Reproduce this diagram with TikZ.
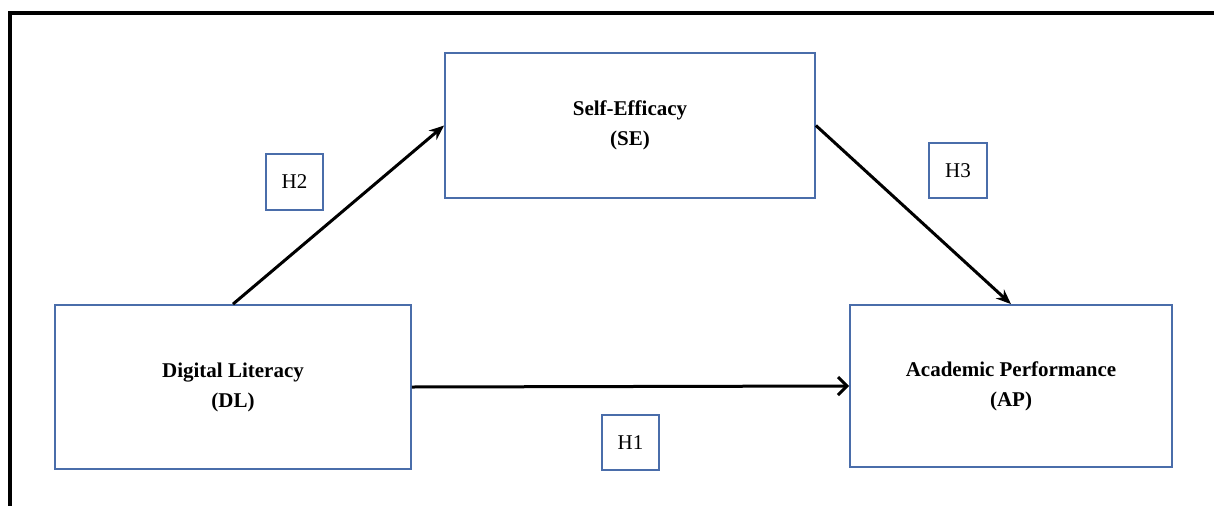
\documentclass[tikz,border=0pt]{standalone}
\usepackage{fontspec}
\setmainfont{Liberation Serif}
\usetikzlibrary{arrows.meta}
\definecolor{boxblue}{HTML}{4A6DAA}
\tikzset{
  construct/.style={draw=boxblue, line width=1.8pt, rectangle, align=center,
    font=\fontsize{21}{30}\selectfont\bfseries, inner sep=0pt},
  hyp/.style={draw=boxblue, line width=1.8pt, rectangle, align=center,
    font=\fontsize{21}{24}\selectfont, inner sep=0pt},
  link/.style={line width=3pt, black},
}
\begin{document}
\begin{tikzpicture}[x=1pt, y=-1pt]
\useasboundingbox (0,0) rectangle (1214,506);
\fill[white] (0,0) rectangle (1214,506);
\coordinate (ftr) at (1214,13);
\coordinate (ftl) at (10,13);
\coordinate (fbl) at (10,506);
\draw[line width=3.2pt, black] (ftr) -- (ftl) -- (fbl);

\node[construct, minimum width=356pt, minimum height=164pt] (DL) at (233,387) {Digital Literacy\\(DL)};
\node[construct, minimum width=370pt, minimum height=145pt] (SE) at (630,125.5) {Self-Efficacy\\(SE)};
\node[construct, minimum width=322pt, minimum height=162pt] (AP) at (1011,386) {Academic Performance\\(AP)};

\node[hyp, minimum width=57pt, minimum height=56pt] (H2) at (294.5,182) {H2};
\node[hyp, minimum width=58pt, minimum height=55pt] (H3) at (958,170.5) {H3};
\node[hyp, minimum width=57pt, minimum height=55pt] (H1) at (630.5,442.5) {H1};

\draw[link, -{Stealth[length=15pt, width=12pt]}] (DL.north) -- (SE.west);
\draw[link, -{Stealth[length=15pt, width=12pt]}] (SE.east) -- (AP.north);
\draw[link, -{Straight Barb[length=9pt, width=18pt, line width=3pt]}] (DL.east) -- (AP.west);
\end{tikzpicture}
\end{document}
